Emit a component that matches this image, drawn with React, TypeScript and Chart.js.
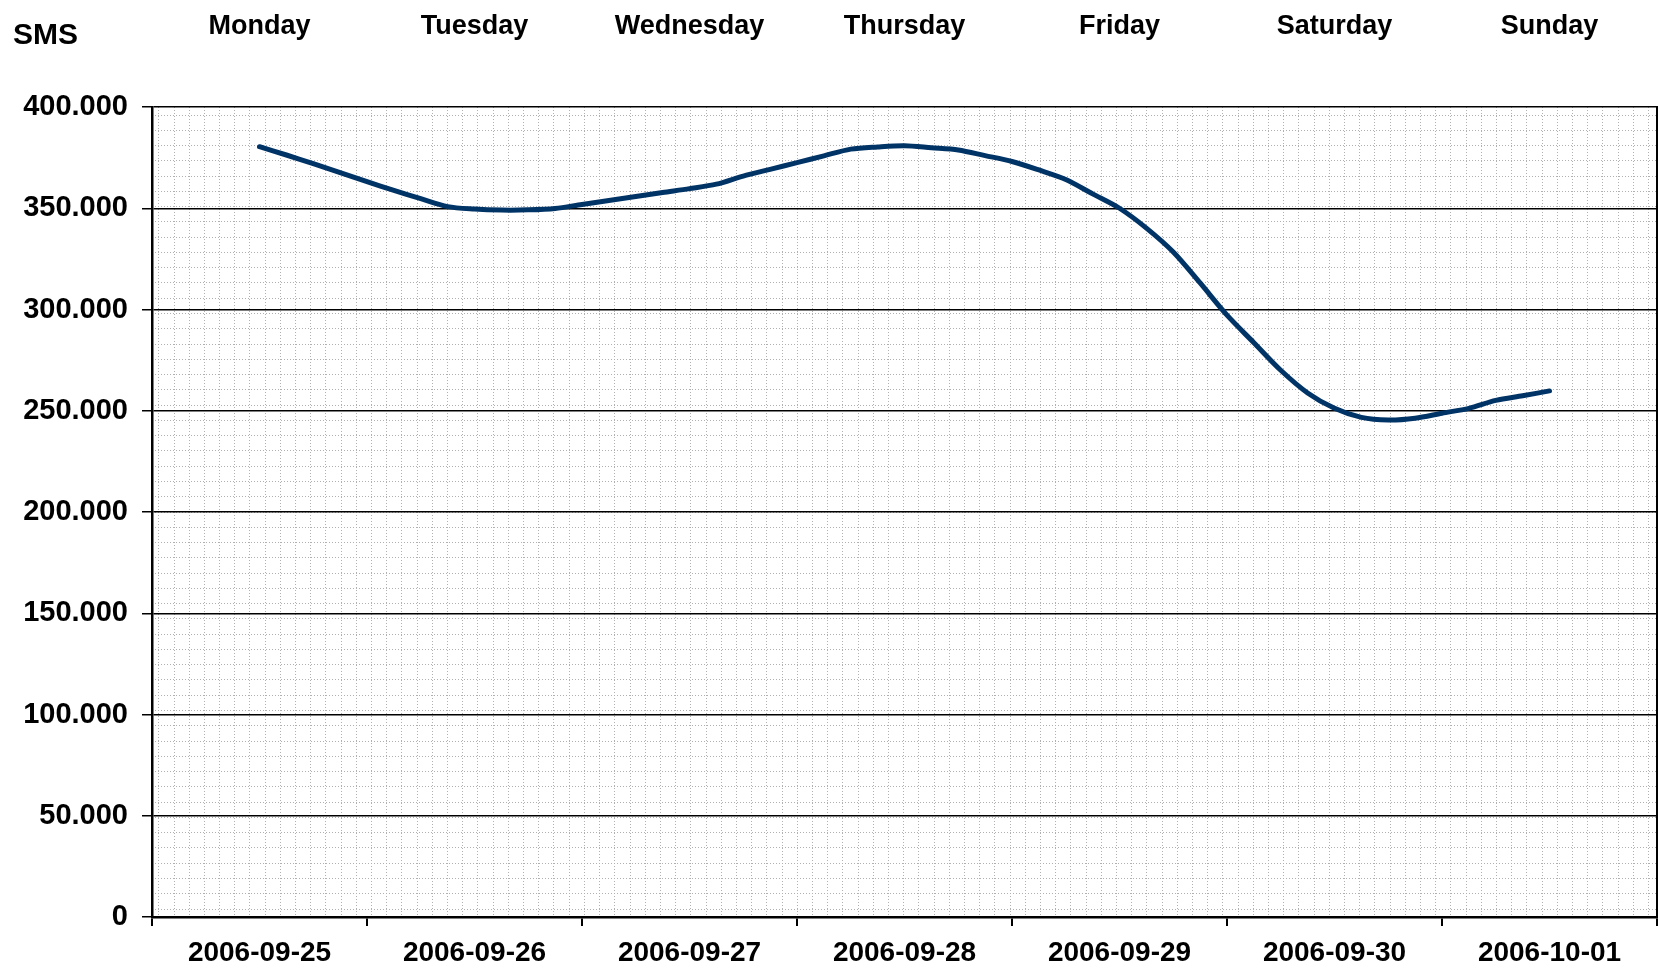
import React, { useEffect, useRef } from "react";
import { Chart, registerables } from "chart.js";

Chart.register(...registerables);

// ---- data ----
const dateLabels = [
  "2006-09-25",
  "2006-09-26",
  "2006-09-27",
  "2006-09-28",
  "2006-09-29",
  "2006-09-30",
  "2006-10-01",
];
const weekdayLabels = ["Monday", "Tuesday", "Wednesday", "Thursday", "Friday", "Saturday", "Sunday"];

// SMS volume sampled every 3 hours from Monday 12:00 to Sunday 12:00
const firstSampleHour = 12;
const sampleStepHours = 3;
const smsValues = [
  380400, 376300, 372000, 367600, 363100, 358800, 354700, 350800,
  349600, 349100, 349200, 349900, 351900, 353800, 355800, 357800,
  359700, 361900, 365900, 369200, 372500, 375900, 379200, 380300,
  380900, 379900, 378800, 376000, 373100, 368900, 364200, 357100,
  350000, 340200, 328400, 313100, 297200, 283600, 270000, 258800,
  251200, 246700, 245400, 246300, 248800, 251200, 255100, 257400,
  259800,
];
const yMin = 0;
const yMax = 400000;
const yStep = 50000;
const yAxisTitle = "SMS";

const FONT = '"Liberation Sans", Arial, Helvetica, sans-serif';

function formatThousands(v: number): string {
  return String(Math.round(v)).replace(/\B(?=(\d{3})+(?!\d))/g, ".");
}

const gridPaper = {
  id: "gridPaper",
  beforeDraw(chart: any) {
    const { ctx, chartArea } = chart;
    const { left, top, right, bottom } = chartArea;
    ctx.save();
    ctx.fillStyle = "#ffffff";
    ctx.fillRect(left, top, right - left, bottom - top);
    ctx.strokeStyle = "#b0b0b0";
    ctx.lineWidth = 1;
    ctx.setLineDash([1, 2]);
    ctx.beginPath();
    for (let x = left + 6.3; x < right; x += 15.2) {
      const px = Math.round(x) + 0.5;
      ctx.moveTo(px, top);
      ctx.lineTo(px, bottom);
    }
    for (let y = top + 7.5; y < bottom; y += 15.27) {
      const py = Math.round(y) + 0.5;
      ctx.moveTo(left, py);
      ctx.lineTo(right, py);
    }
    ctx.stroke();
    ctx.restore();
  },
};

const cornerTitle = {
  id: "cornerTitle",
  afterDraw(chart: any) {
    const { ctx } = chart;
    ctx.save();
    ctx.font = `bold 30px ${FONT}`;
    ctx.fillStyle = "#000";
    ctx.textBaseline = "alphabetic";
    ctx.textAlign = "left";
    ctx.fillText(yAxisTitle, 13, 44);
    ctx.restore();
  },
};

export default function App() {
  const canvasRef = useRef<HTMLCanvasElement | null>(null);

  useEffect(() => {
    document.body.style.margin = "0";
    const canvas = canvasRef.current;
    if (!canvas) return;
    const points = smsValues.map((v, i) => ({ x: firstSampleHour + i * sampleStepHours, y: v }));
    const chart = new Chart(canvas, {
      type: "line",
      data: {
        datasets: [
          {
            label: yAxisTitle,
            data: points,
            xAxisID: "x",
            yAxisID: "y",
            borderColor: "#003366",
            borderWidth: 5,
            borderCapStyle: "round",
            borderJoinStyle: "round",
            pointRadius: 0,
            tension: 0.3,
            fill: false,
          },
        ],
      },
      plugins: [gridPaper, cornerTitle],
      options: {
        animation: false,
        responsive: false,
        maintainAspectRatio: false,
        layout: { padding: 0 },
        plugins: {
          legend: { display: false },
          tooltip: { enabled: false },
          title: { display: false },
        },
        scales: {
          x: {
            type: "linear",
            display: false,
            min: 0,
            max: dateLabels.length * 24,
          },
          xDates: {
            type: "category",
            labels: dateLabels,
            position: "bottom",
            offset: true,
            grid: {
              display: true,
              offset: true,
              drawOnChartArea: false,
              drawTicks: true,
              tickLength: 9,
              color: "#000",
              lineWidth: 2,
            },
            border: { display: true, color: "#000", width: 2.5 },
            ticks: {
              color: "#000",
              font: { family: FONT, size: 28, weight: "bold" },
              padding: 10,
              maxRotation: 0,
              autoSkip: false,
            },
            afterFit(scale: any) {
              scale.height = 57;
            },
          },
          xDays: {
            type: "category",
            labels: weekdayLabels,
            position: "top",
            offset: true,
            grid: { display: false },
            border: { display: false },
            ticks: {
              color: "#000",
              font: { family: FONT, size: 27, weight: "bold" },
              padding: 56,
              maxRotation: 0,
              autoSkip: false,
            },
            afterFit(scale: any) {
              scale.height = 107;
            },
          },
          y: {
            type: "linear",
            position: "left",
            min: yMin,
            max: yMax,
            grid: {
              color: "#000",
              lineWidth: 1.5,
              drawTicks: true,
              tickLength: 10,
            },
            border: { display: true, color: "#000", width: 2.5 },
            ticks: {
              stepSize: yStep,
              color: "#000",
              font: { family: FONT, size: 29, weight: "bold" },
              padding: 14,
              callback: (v: any) => formatThousands(Number(v)),
            },
            afterFit(scale: any) {
              scale.width = 152;
            },
          },
          yRight: {
            type: "linear",
            position: "right",
            min: yMin,
            max: yMax,
            grid: { display: false, drawTicks: false },
            border: { display: true, color: "#000", width: 2 },
            ticks: { display: false },
            afterFit(scale: any) {
              scale.width = 3;
            },
          },
        },
      },
    } as any);
    return () => chart.destroy();
  }, []);

  return (
    <div style={{ width: 1660, height: 974, background: "#fff" }}>
      <canvas ref={canvasRef} width={1660} height={974} style={{ display: "block" }} />
    </div>
  );
}
